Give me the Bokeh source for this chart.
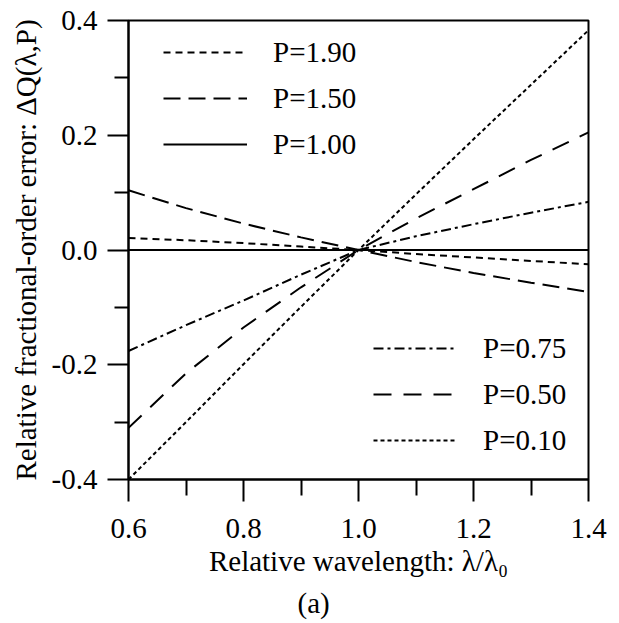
from bokeh.plotting import figure
from bokeh.models import Legend, LegendItem, Range1d, FixedTicker, PrintfTickFormatter, Title
from bokeh.embed import file_html
from bokeh.resources import INLINE

# ---- data ----
wavelength = [0.6, 0.7, 0.8, 0.9, 1.0, 1.1, 1.2, 1.3, 1.4]
err_p190 = [0.021, 0.017, 0.012, 0.006, 0.0, -0.007, -0.013, -0.019, -0.025]
err_p150 = [0.104, 0.073, 0.046, 0.022, 0.0, -0.021, -0.040, -0.057, -0.073]
err_p100 = [0.0, 0.0, 0.0, 0.0, 0.0, 0.0, 0.0, 0.0, 0.0]
err_p075 = [-0.176, -0.131, -0.088, -0.043, 0.0, 0.024, 0.045, 0.065, 0.084]
err_p050 = [-0.310, -0.215, -0.135, -0.065, 0.0, 0.055, 0.106, 0.157, 0.205]
err_p010 = [-0.400, -0.300, -0.199, -0.099, 0.0, 0.097, 0.193, 0.288, 0.383]

x_major = [0.6, 0.8, 1.0, 1.2, 1.4]
x_minor = [0.7, 0.9, 1.1, 1.3]
y_major = [-0.4, -0.2, 0.0, 0.2, 0.4]
y_minor = [-0.3, -0.1, 0.1, 0.3]

labels_top = ["P=1.90", "P=1.50", "P=1.00"]
labels_bottom = ["P=0.75", "P=0.50", "P=0.10"]

x_title = "Relative wavelength: \u03bb/\u03bb\u2080"
y_title = "Relative fractional-order error: \u0394Q(\u03bb,P)"
caption = "(a)"

FONT = "'Liberation Serif'"
FS = "29px"

p = figure(width=616, height=623,
           x_range=Range1d(0.6, 1.4), y_range=Range1d(-0.4, 0.4),
           output_backend="svg", toolbar_location=None,
           min_border_left=128, min_border_right=28,
           min_border_top=20, min_border_bottom=144)

p.background_fill_color = "white"
p.border_fill_color = "white"
p.grid.visible = False
p.outline_line_color = "black"
p.outline_line_width = 2
p.outline_line_alpha = 1.0

p.xaxis.ticker = FixedTicker(ticks=x_major, minor_ticks=x_minor)
p.yaxis.ticker = FixedTicker(ticks=y_major, minor_ticks=y_minor)
p.xaxis.formatter = PrintfTickFormatter(format="%.1f")
p.yaxis.formatter = PrintfTickFormatter(format="%.1f")

for ax in (p.xaxis[0], p.yaxis[0]):
    ax.axis_line_width = 2
    ax.axis_line_color = "black"
    ax.major_tick_line_width = 2
    ax.minor_tick_line_width = 2
    ax.major_tick_line_color = "black"
    ax.minor_tick_line_color = "black"
    ax.major_tick_in = 0
    ax.minor_tick_in = 0
    ax.major_label_text_font = FONT
    ax.major_label_text_font_size = FS
    ax.major_label_text_color = "black"
    ax.axis_label_text_font = FONT
    ax.axis_label_text_font_size = FS
    ax.axis_label_text_font_style = "normal"
    ax.axis_label_text_color = "black"

p.xaxis.major_tick_out = 22
p.xaxis.minor_tick_out = 16
p.yaxis.major_tick_out = 21
p.yaxis.minor_tick_out = 14
p.xaxis.major_label_standoff = 17
p.yaxis.major_label_standoff = 10
p.xaxis.axis_label = x_title
p.yaxis.axis_label = y_title
p.xaxis.axis_label_standoff = 4
p.yaxis.axis_label_standoff = 7

styles = [
    (err_p190, "7 5"),
    (err_p150, "17 8"),
    (err_p100, "solid"),
    (err_p075, "10 4 3 4"),
    (err_p050, "18 12"),
    (err_p010, "4 3"),
]
rends = []
for ys, dash in styles:
    r = p.line(wavelength, ys, line_color="black", line_width=2, line_dash=dash)
    rends.append(r)

common = dict(glyph_width=84, glyph_height=36, label_height=36, label_standoff=26,
              spacing=10, padding=0, margin=0, border_line_color=None,
              background_fill_alpha=0, label_text_font=FONT, label_text_font_size=FS,
              label_text_color="black")

leg1 = Legend(items=[LegendItem(label=l, renderers=[r]) for l, r in zip(labels_top, rends[:3])],
              location=(35, 317), **common)
leg2 = Legend(items=[LegendItem(label=l, renderers=[r]) for l, r in zip(labels_bottom, rends[3:])],
              location=(245, 21), **common)
p.add_layout(leg1)
p.add_layout(leg2)

p.add_layout(Title(text=caption, align="left", offset=169, text_font=FONT,
                   text_font_size=FS, text_font_style="normal", text_color="black",
                   standoff=10), "below")

open("out.html", "w").write(file_html(p, INLINE))
